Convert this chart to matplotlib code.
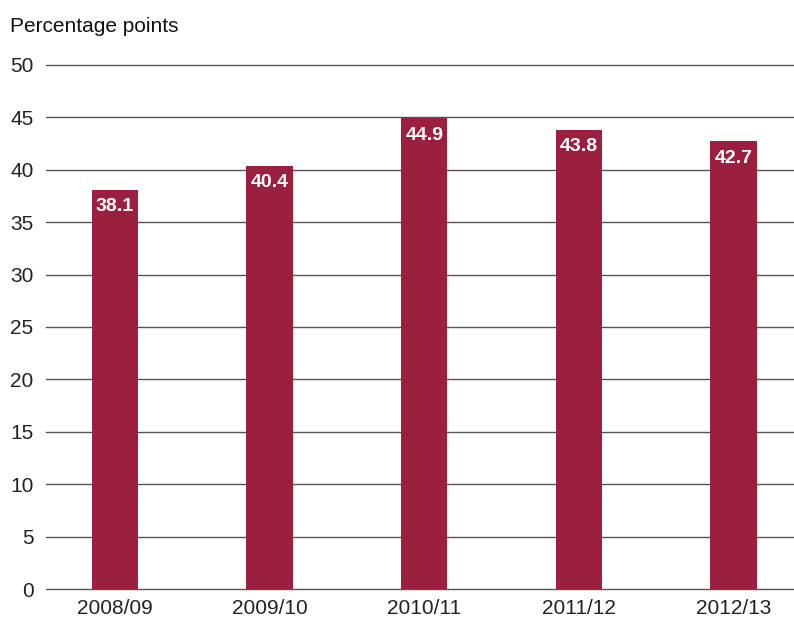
import numpy as np
import matplotlib.pyplot as plt

plt.rcParams['font.family'] = ['Liberation Sans', 'DejaVu Sans']

years = ['2008/09', '2009/10', '2010/11', '2011/12', '2012/13']
values = [38.1, 40.4, 44.9, 43.8, 42.7]
bar_colour = '#9b1f3f'

fig = plt.figure(figsize=(7.94, 6.24), dpi=100)
ax = fig.add_axes([0.058, 0.056, 0.942, 0.84])

x = np.arange(len(years))
bars = ax.bar(x, values, width=0.3, color=bar_colour, zorder=3)

# value labels sit just inside the top of each bar
for b, v in zip(bars, values):
    ax.annotate(f'{v:.1f}', (b.get_x() + b.get_width() / 2, v),
                xytext=(0, -6), textcoords='offset points',
                ha='center', va='top', color='white', fontsize=14,
                fontweight='bold', zorder=4)

ax.set_ylim(0, 50)
ax.set_yticks(np.arange(0, 51, 5))
ax.set_xlim(-0.445, 4.39)
ax.set_xticks(x)
ax.set_xticklabels(years)
ax.yaxis.grid(True, color='#555555', linewidth=1.0, zorder=0)
for gl in ax.yaxis.get_gridlines():
    gl.set_clip_on(False)
ax.set_axisbelow(True)

for s in ax.spines.values():
    s.set_visible(False)
ax.tick_params(axis='both', length=0, labelsize=15, colors='#222222')
ax.tick_params(axis='x', pad=7)
ax.tick_params(axis='y', pad=9)

fig.text(10 / 794, 1 - 27 / 624, 'Percentage points', fontsize=15,
         va='center', ha='left', color='#111111')

fig.savefig('out.png', dpi=100)
